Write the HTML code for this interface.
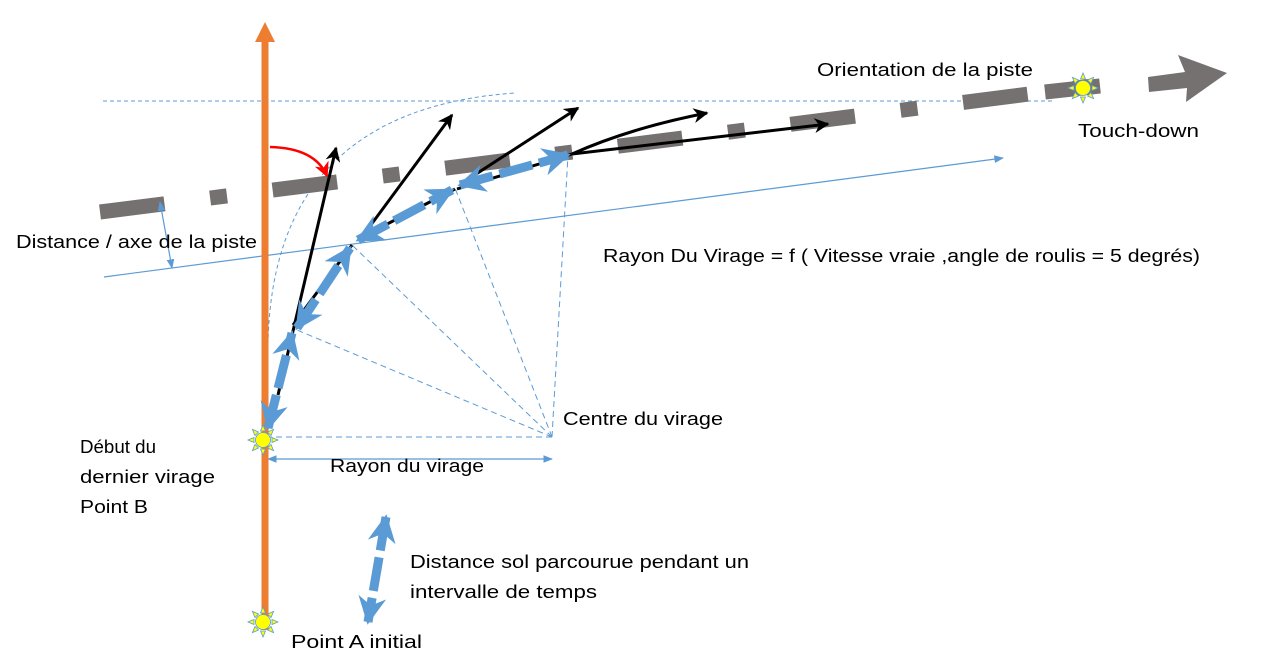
<!DOCTYPE html>
<html><head><meta charset="utf-8"><style>
html,body{margin:0;padding:0;background:#fff;}
svg{display:block;}
text{font-family:"Liberation Sans",sans-serif;font-size:18px;fill:#000;}
</style></head><body>
<svg width="1277" height="670" viewBox="0 0 1277 670" xmlns="http://www.w3.org/2000/svg">
<defs>
<marker id="bk" viewBox="0 0 10 10" refX="9" refY="5" markerWidth="5" markerHeight="5" orient="auto-start-reverse" markerUnits="strokeWidth">
<path d="M0,0 L10,5 L0,10 L3,5 Z" fill="#000"/></marker>
<marker id="bl" viewBox="0 0 10 10" refX="9" refY="5" markerWidth="28" markerHeight="28" orient="auto-start-reverse" markerUnits="userSpaceOnUse">
<path d="M0,0 L10,5 L0,10 L3,5 Z" fill="#5b9bd5"/></marker>
<marker id="thin" viewBox="0 0 10 10" refX="9" refY="5" markerWidth="8" markerHeight="8" orient="auto-start-reverse" markerUnits="strokeWidth">
<path d="M0,1 L10,5 L0,9 Z" fill="#5b9bd5"/></marker>
<marker id="rd" viewBox="0 0 10 10" refX="9" refY="5" markerWidth="6" markerHeight="6" orient="auto" markerUnits="strokeWidth">
<path d="M0,0 L10,5 L0,10 L3,5 Z" fill="#f00"/></marker>
<g id="sun">
<g fill="#ffff00" stroke="#5b9bd5" stroke-width="0.8">
<path d="M0,-15 L2.5,-9 L-2.5,-9 Z"/><path d="M0,15 L2.5,9 L-2.5,9 Z"/>
<path d="M-15,0 L-9,2.5 L-9,-2.5 Z"/><path d="M15,0 L9,2.5 L9,-2.5 Z"/>
<path d="M10.6,-10.6 L4.5,-8 L8,-4.5 Z"/><path d="M-10.6,10.6 L-4.5,8 L-8,4.5 Z"/>
<path d="M-10.6,-10.6 L-4.5,-8 L-8,-4.5 Z"/><path d="M10.6,10.6 L4.5,8 L8,4.5 Z"/>
<circle r="7.5"/></g></g>
</defs>

<line x1="103" y1="101" x2="1052" y2="101" stroke="#5b9bd5" stroke-width="1" stroke-dasharray="4 3"/>
<path d="M268,345 Q272,110 515,93" fill="none" stroke="#5b9bd5" stroke-width="1" stroke-dasharray="4 3"/>
<line x1="104" y1="277" x2="1003" y2="158" stroke="#5b9bd5" stroke-width="1.2" marker-end="url(#thin)"/>

<line x1="100" y1="212" x2="1100" y2="85" stroke="#767171" stroke-width="15" stroke-dasharray="65 46 17 46"/>
<line x1="1045" y1="92" x2="1100" y2="86" stroke="#767171" stroke-width="15"/>
<polygon points="1148,77 1185,72 1178,55 1227,73 1186,102 1187,88 1149,92" fill="#767171"/>

<g stroke="#5b9bd5" stroke-width="1" stroke-dasharray="6 4" fill="none">
<line x1="552" y1="437" x2="266" y2="437"/>
<line x1="552" y1="437" x2="297" y2="330"/>
<line x1="552" y1="437" x2="352" y2="245"/>
<line x1="552" y1="437" x2="455" y2="188"/>
<line x1="552" y1="437" x2="568" y2="155"/>
</g>
<line x1="268" y1="459" x2="552" y2="459" stroke="#5b9bd5" stroke-width="1.2" marker-start="url(#thin)" marker-end="url(#thin)"/>

<line x1="265" y1="40" x2="265" y2="630" stroke="#ed7d31" stroke-width="7"/>
<polygon points="255,42 265,22 275,42" fill="#ed7d31"/>

<g stroke="#000" stroke-width="3" fill="none">
<line x1="278" y1="395" x2="336" y2="148" marker-end="url(#bk)"/>
<line x1="293" y1="325" x2="352" y2="245"/>
<line x1="362" y1="237" x2="452" y2="115" marker-end="url(#bk)"/>
<line x1="362" y1="237" x2="455" y2="189"/>
<line x1="470" y1="178" x2="578" y2="108" marker-end="url(#bk)"/>
<line x1="457" y1="189" x2="572" y2="154"/>
<path d="M572,154 Q630,128 707,113" marker-end="url(#bk)"/>
<line x1="572" y1="154" x2="828" y2="124" marker-end="url(#bk)"/>
</g>

<g stroke="#5b9bd5" stroke-width="9" stroke-dasharray="34 7" fill="none">
<line x1="268" y1="428" x2="292" y2="333" marker-start="url(#bl)" marker-end="url(#bl)"/>
<line x1="297" y1="328" x2="350" y2="248" marker-start="url(#bl)" marker-end="url(#bl)"/>
<line x1="358" y1="240" x2="452" y2="190" marker-start="url(#bl)" marker-end="url(#bl)"/>
<line x1="460" y1="185" x2="568" y2="155" marker-start="url(#bl)" marker-end="url(#bl)"/>
<line x1="386" y1="517" x2="368" y2="622" marker-start="url(#bl)" marker-end="url(#bl)"/>
</g>

<line x1="160" y1="202" x2="172" y2="268" stroke="#5b9bd5" stroke-width="1.2" marker-start="url(#thin)" marker-end="url(#thin)"/>

<path d="M270,147 Q315,148 327,176" fill="none" stroke="#f00" stroke-width="2.5" marker-end="url(#rd)"/>

<use href="#sun" x="263" y="440"/>
<use href="#sun" x="263" y="622"/>
<use href="#sun" x="1083" y="88"/>

<text x="817" y="76" textLength="216" lengthAdjust="spacingAndGlyphs">Orientation de la piste</text>
<text x="1078" y="137" textLength="121" lengthAdjust="spacingAndGlyphs">Touch-down</text>
<text x="16" y="248" textLength="241" lengthAdjust="spacingAndGlyphs">Distance / axe de la piste</text>
<text x="603" y="262" textLength="597" lengthAdjust="spacingAndGlyphs">Rayon Du Virage = f ( Vitesse vraie ,angle de roulis = 5 degrés)</text>
<text x="563" y="425" textLength="160" lengthAdjust="spacingAndGlyphs">Centre du virage</text>
<text x="80" y="453" textLength="76" lengthAdjust="spacingAndGlyphs">Début du</text>
<text x="80" y="483" textLength="135" lengthAdjust="spacingAndGlyphs">dernier virage</text>
<text x="80" y="513" textLength="68" lengthAdjust="spacingAndGlyphs">Point B</text>
<text x="330" y="472" textLength="154" lengthAdjust="spacingAndGlyphs">Rayon du virage</text>
<text x="410" y="568" textLength="339" lengthAdjust="spacingAndGlyphs">Distance sol parcourue pendant un</text>
<text x="410" y="598" textLength="187" lengthAdjust="spacingAndGlyphs">intervalle de temps</text>
<text x="291" y="648" textLength="131" lengthAdjust="spacingAndGlyphs">Point A initial</text>
</svg>
</body></html>
